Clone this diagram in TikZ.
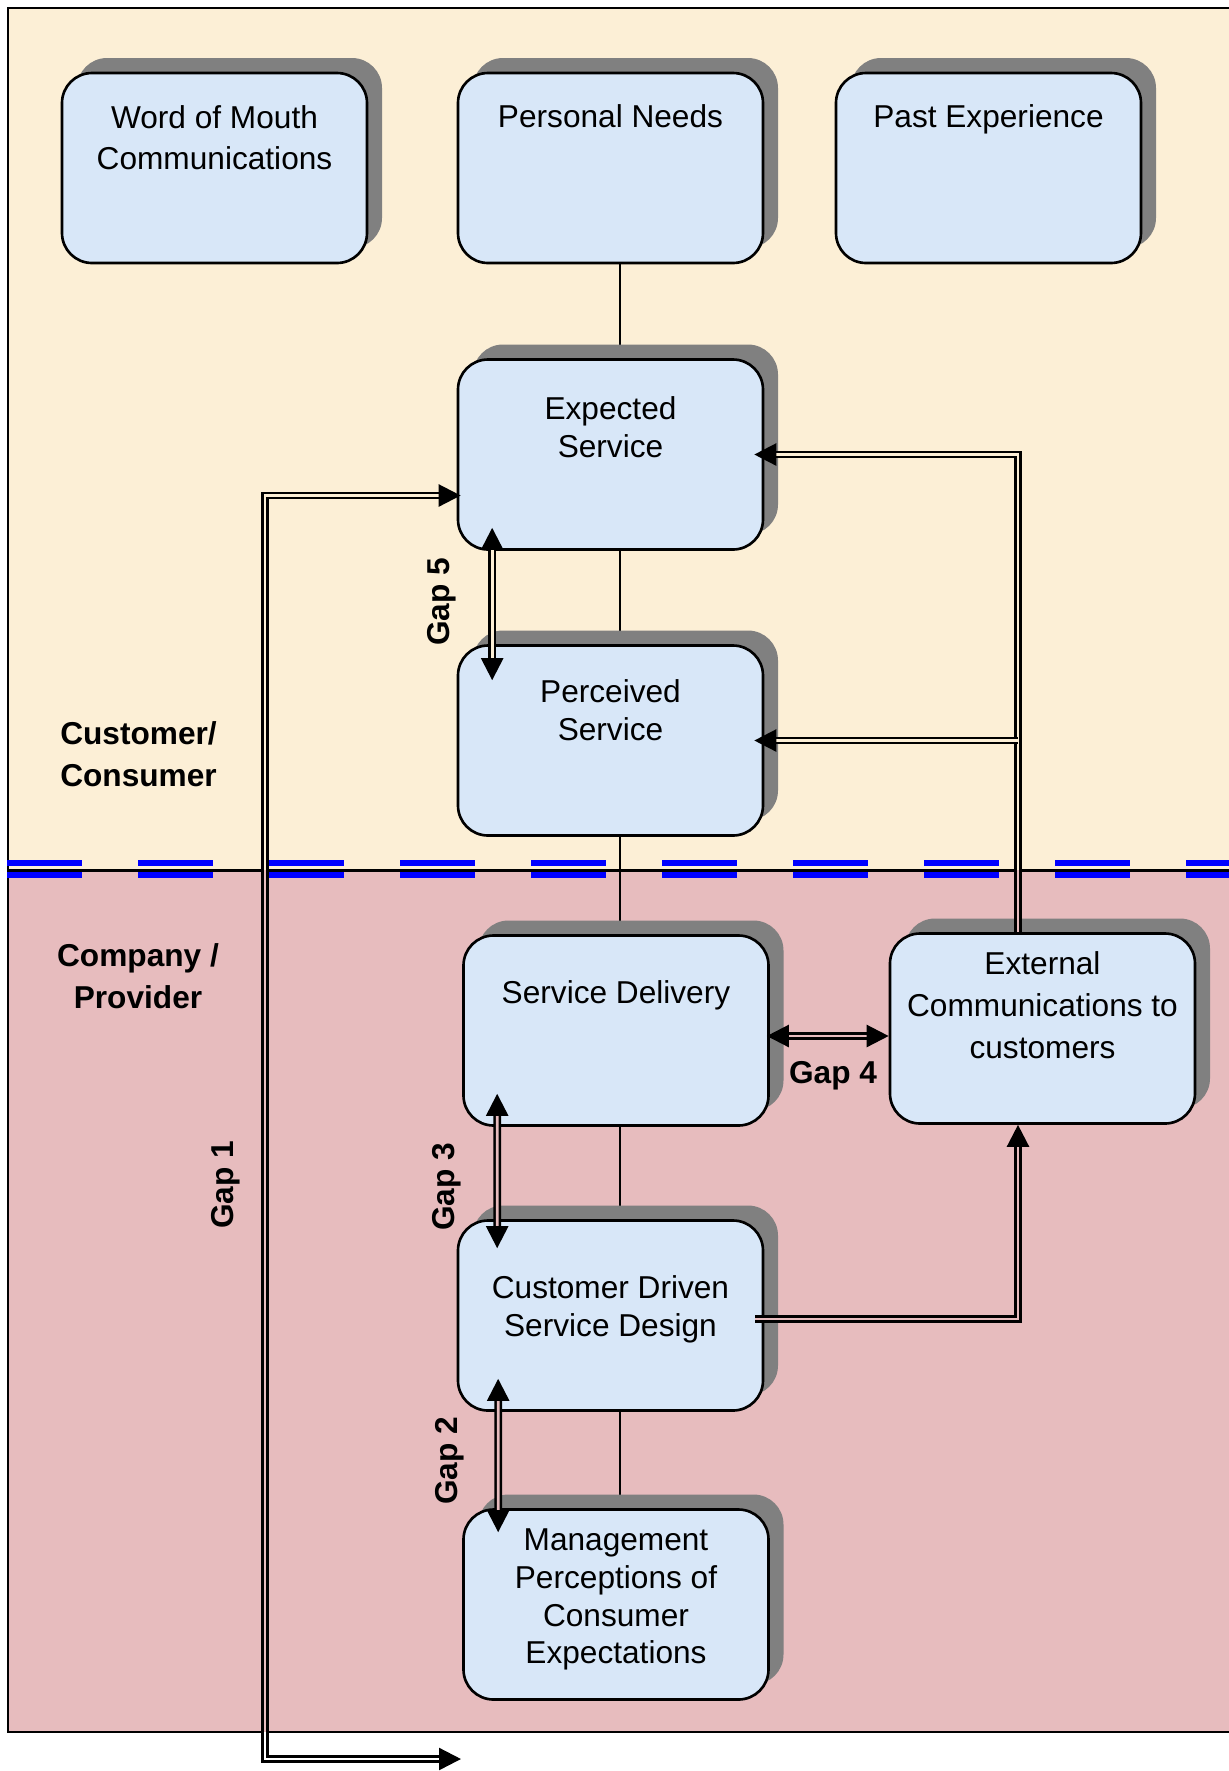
\documentclass[tikz,border=0pt]{standalone}
\usepackage{fontspec}
\setmainfont{Liberation Sans}
\usetikzlibrary{arrows.meta,shadows}
\pgfdeclarelayer{bg}
\pgfdeclarelayer{lines}
\pgfsetlayers{bg,lines,main}
\definecolor{creambg}{RGB}{252,239,214}
\definecolor{pinkbg}{RGB}{231,188,190}
\definecolor{boxblue}{RGB}{216,231,248}
\definecolor{shadowgray}{RGB}{128,128,128}
\newcommand{\boxlines}[3][10.8]{\parbox[c][1.9cm][t]{3.05cm}{\centering\fontsize{9}{#1}\selectfont\vspace*{#2}\strut #3}}
\tikzset{
  svc/.style={draw, line width=0.75pt, rounded corners=0.3cm, fill=boxblue, inner sep=0pt,
    drop shadow={shadow xshift=0.15cm, shadow yshift=0.15cm, fill=shadowgray, opacity=1}},
  gapline/.style={line width=0.7pt, double=#1, double distance=0.8pt},
  gapline/.default=white,
  gaplabel/.style={font=\fontsize{9}{11}\selectfont\bfseries},
  side/.style={font=\fontsize{9}{12}\selectfont\bfseries, align=center},
  conn/.style={line width=0.75pt}
}
\begin{document}
\begin{tikzpicture}[>={Triangle[length=0.22cm, width=0.22cm]}]
\useasboundingbox (0,0) rectangle (12.29,-17.71);
% customer and company areas
\begin{pgfonlayer}{bg}
\fill[creambg] (0.08,-0.08) rectangle (12.29,-8.70);
\fill[pinkbg] (0.08,-8.70) rectangle (12.29,-17.32);
\draw[line width=0.6pt] (12.29,-0.08) -- (0.08,-0.08) -- (0.08,-17.32) -- (12.29,-17.32);
\draw[blue, line width=0.057cm, dash pattern=on 0.75cm off 0.56cm] (0.07,-8.628) -- (12.29,-8.628);
\draw[blue, line width=0.057cm, dash pattern=on 0.75cm off 0.56cm] (0.07,-8.753) -- (12.29,-8.753);
\draw[line width=0.033cm] (0.08,-8.707) -- (12.29,-8.707);
\end{pgfonlayer}

\node[svc] (wom) at (2.145,-1.68) {\boxlines[11.6]{0.27cm}{Word of Mouth\\Communications}};
\node[svc] (needs) at (6.105,-1.68) {\boxlines{0.28cm}{Personal Needs}};
\node[svc] (past) at (9.885,-1.68) {\boxlines{0.28cm}{Past Experience}};
\node[svc] (expected) at (6.105,-4.545) {\boxlines{0.33cm}{Expected\\Service}};
\node[svc] (perceived) at (6.105,-7.405) {\boxlines{0.30cm}{Perceived\\Service}};
\node[svc] (delivery) at (6.16,-10.305) {\boxlines{0.41cm}{Service Delivery}};
\node[svc] (extcom) at (10.425,-10.285) {\boxlines[11.9]{0.12cm}{External\\Communications to\\customers}};
\node[svc] (design) at (6.105,-13.155) {\boxlines{0.51cm}{Customer Driven\\Service Design}};
\node[svc] (mgmt) at (6.16,-16.045) {\boxlines{0.14cm}{Management\\Perceptions of\\Consumer\\Expectations}};

\node[side] (cust) at (1.385,-7.54) {Customer/\\Consumer};
\node[side] (comp) at (1.38,-9.76) {Company /\\Provider};
\node[gaplabel, rotate=90] (gap5) at (4.42,-6.02) {Gap 5};
\node[gaplabel, rotate=90] (gap3) at (4.47,-11.87) {Gap 3};
\node[gaplabel, rotate=90] (gap2) at (4.50,-14.61) {Gap 2};
\node[gaplabel, rotate=90] (gap1) at (2.26,-11.85) {Gap 1};
\node[gaplabel] (gap4) at (8.33,-10.76) {Gap 4};

% plain links down the middle
\begin{pgfonlayer}{lines}
\draw[conn] ([xshift=0.095cm]needs.south) -- ([xshift=0.095cm]expected.north);
\draw[conn] ([xshift=0.095cm]expected.south) -- ([xshift=0.095cm]perceived.north);
\draw[conn] ([xshift=0.095cm]perceived.south) -- ([xshift=0.04cm]delivery.north);
\draw[conn] ([xshift=0.04cm]delivery.south) -- ([xshift=0.095cm]design.north);
\draw[conn] ([xshift=0.095cm]design.south) -- ([xshift=0.04cm]mgmt.north);
\end{pgfonlayer}

% gaps
\coordinate (g1end) at (4.61,-17.59);
\coordinate (g1low) at (2.65,-17.59);
\coordinate (extup) at ([xshift=-0.245cm]extcom.north);
% long links cross both areas: show the area colour between the two lines
\foreach \ytop/\ybot/\inside in {0/-8.70/creambg, -8.70/-17.32/pinkbg, -17.32/-17.71/white} {
  \begin{scope}
    \clip (0,\ytop) rectangle (12.29,\ybot);
    \draw[gapline=\inside, <->] (g1end) -- (g1low) |- ([xshift=0.04cm, yshift=-0.41cm]expected.west);
    \draw[gapline=\inside, ->] (extup) |- ([xshift=-0.1cm]expected.east);
  \end{scope}
}
\draw[gapline=creambg, <->] ([xshift=0.355cm, yshift=0.23cm]expected.south west) -- ([xshift=0.355cm, yshift=-0.36cm]perceived.north west);
\draw[gapline=pinkbg, <->] ([xshift=0.35cm, yshift=0.33cm]delivery.south west) -- ([xshift=0.405cm, yshift=-0.29cm]design.north west);
\draw[gapline=pinkbg, <->] ([xshift=0.415cm, yshift=0.33cm]design.south west) -- ([xshift=0.36cm, yshift=-0.24cm]mgmt.north west);
\draw[gapline=pinkbg, <->] ([xshift=-0.03cm, yshift=-0.055cm]delivery.east) -- ([yshift=-0.055cm]delivery.east -| extcom.west);

% external communications
\draw[gapline=creambg, ->] (perceived.east -| extup) -- ([xshift=-0.1cm]perceived.east);
\draw[gapline=pinkbg, ->] ([xshift=-0.09cm, yshift=-0.035cm]design.east) -| ([xshift=-0.245cm]extcom.south);
\end{tikzpicture}
\end{document}
